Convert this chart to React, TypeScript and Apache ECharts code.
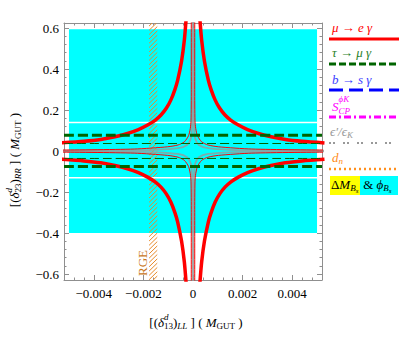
import React, { useEffect, useRef } from "react";
import * as echarts from "echarts";

// ---------- data ----------
const xRange = [-0.0052, 0.0052];
const yRange = [-0.629, 0.625];
const xMajorTicks = [-0.004, -0.002, 0, 0.002, 0.004];
const yMajorTicks = [-0.6, -0.4, -0.2, 0, 0.2, 0.4, 0.6];

// mu -> e gamma, thick contour: branch in the (+,+) quadrant (mirrored to the other quadrants)
const muEgThick = [
  [0.00028, 0.64], [0.00035, 0.54], [0.00046, 0.44], [0.00062, 0.345], [0.00073, 0.3],
  [0.00089, 0.25], [0.00107, 0.21], [0.00129, 0.176], [0.00153, 0.15], [0.00183, 0.127],
  [0.0022, 0.105], [0.00264, 0.086], [0.00315, 0.07], [0.00372, 0.057], [0.0044, 0.048],
  [0.0053, 0.04],
];
// mu -> e gamma, thin contour
const muEgThin = [
  [0.00007, 0.64], [0.00007, 0.3], [0.00008, 0.15], [0.00011, 0.11], [0.00018, 0.075],
  [0.00035, 0.045], [0.0006, 0.03], [0.00102, 0.021], [0.00237, 0.01], [0.0053, 0.005],
];
// epsilon'/epsilon_K contour (gray)
const epsK = [
  [0.00002, 0.64], [0.00002, 0.25], [0.00004, 0.12], [0.00009, 0.06], [0.00024, 0.03],
  [0.0006, 0.014], [0.0015, 0.006], [0.003, 0.003], [0.0053, 0.0018],
];
const tauMugThickY = [0.077, -0.075];
const tauMugThinY = [0.037, -0.036];
const bsAllowed = [[-0.005, 0.005, -0.4, 0.595]]; // x0, x1, y0, y1
const bsGapsY = [0.14, -0.13];
const rgeBand = [[-0.00177, -0.00144]];

const legendLabels = ["μ → e γ", "τ → μ γ", "b → s γ", "S", "ϵ′/ϵ", "d"];

// ---------- helpers ----------
const FONT = "'Liberation Serif', 'DejaVu Serif', serif";
let measureCtx: CanvasRenderingContext2D | null = null;
function measure(text: string, size: number, italic: boolean) {
  if (!measureCtx) measureCtx = document.createElement("canvas").getContext("2d");
  measureCtx!.font = `${italic ? "italic " : ""}${size}px ${FONT}`;
  return measureCtx!.measureText(text).width;
}
type Piece = { t: string; s?: number; i?: boolean; dy?: number; stack?: boolean; c?: string };
function mathText(pieces: Piece[], base: number, color: string, x0: number, y0: number, align = "left") {
  let x = 0, lastX = 0, lastW = 0;
  const items: any[] = [];
  for (const p of pieces) {
    const s = p.s ?? base;
    const w = measure(p.t, s, !!p.i);
    let px;
    if (p.stack) {
      px = lastX;
      const adv = Math.max(lastW, w);
      x = lastX + adv;
      lastW = adv;
    } else {
      px = x;
      lastX = x;
      lastW = w;
      x += w;
    }
    items.push({ px, p, s });
  }
  const off = align === "center" ? -x / 2 : 0;
  return items.map(({ px, p, s }) => ({
    type: "text",
    x: x0 + off + px,
    y: y0 + (p.dy ?? 0),
    silent: true,
    style: {
      text: p.t, fontSize: s, fontFamily: FONT, fontStyle: p.i ? "italic" : "normal",
      fill: p.c ?? color, align: "left", verticalAlign: "middle",
    },
  }));
}
const quad = (pts: number[][], sx: number, sy: number) => pts.map(([x, y]) => [x * sx, y * sy]);
const quads = (pts: number[][]) => [quad(pts, 1, 1), quad(pts, -1, 1), quad(pts, 1, -1), quad(pts, -1, -1)];

function lineSeries(data: number[][], color: string, width: number, type: any = "solid", z = 3, opacity = 1) {
  return {
    type: "line", xAxisIndex: 0, yAxisIndex: 0, data, showSymbol: false, symbol: "none",
    smooth: 0.25, silent: true, z, clip: true, animation: false,
    lineStyle: { color, width, type, opacity, cap: "butt" },
  };
}

const fmt = (v: number) => (v < 0 ? "\u2212" : "") + String(Math.abs(Number(v.toFixed(4))));

export default function App() {
  const ref = useRef<HTMLDivElement>(null);
  useEffect(() => {
    const chart = echarts.init(ref.current!, null, { renderer: "svg" });
    const axisColor = "#8f8f8f";
    const xMinor: number[] = [];
    for (let k = -12; k <= 12; k++) if (k % 5 !== 0) xMinor.push(Number((k * 0.0004).toFixed(5)));
    const yMinor: number[] = [];
    for (let k = -15; k <= 15; k++) if (k % 5 !== 0) yMinor.push(Number((k * 0.04).toFixed(4)));

    const mk = (kind: "x" | "y", position: string, major: boolean, labels: boolean) => ({
      type: "value",
      position,
      min: kind === "x" ? xRange[0] : yRange[0],
      max: kind === "x" ? xRange[1] : yRange[1],
      splitLine: { show: false },
      axisLine: { show: major, onZero: false, lineStyle: { color: axisColor, width: 1 } },
      axisTick: {
        show: true, inside: true, length: major ? 5 : 2.5,
        customValues: major ? (kind === "x" ? xMajorTicks : yMajorTicks) : kind === "x" ? xMinor : yMinor,
        lineStyle: { color: axisColor, width: 1 },
      },
      axisLabel: {
        show: labels,
        customValues: kind === "x" ? xMajorTicks : yMajorTicks,
        formatter: fmt, fontFamily: FONT, fontSize: 13, color: "#000",
        margin: kind === "x" ? 7 : 5,
      },
    });

    const series: any[] = [];
    // cyan allowed region (Delta M_Bs & phi_Bs)
    series.push({
      type: "custom", xAxisIndex: 0, yAxisIndex: 0, silent: true, z: 1,
      data: bsAllowed, encode: { x: [0, 1], y: [2, 3] },
      renderItem: (_p: any, api: any) => {
        const a = api.coord([api.value(0), api.value(3)]);
        const b = api.coord([api.value(1), api.value(2)]);
        return { type: "rect", shape: { x: a[0], y: a[1], width: b[0] - a[0], height: b[1] - a[1] }, style: { fill: "#00ffff" } };
      },
    });
    bsGapsY.forEach((y) =>
      series.push(lineSeries([[bsAllowed[0][0], y], [bsAllowed[0][1], y]], "#ffffff", 1.5, "solid", 2))
    );
    // RGE hatched band
    series.push({
      type: "custom", xAxisIndex: 0, yAxisIndex: 0, silent: true, z: 2, clip: true,
      data: rgeBand, encode: { x: [0, 1] },
      renderItem: (_p: any, api: any) => {
        const x0 = api.coord([api.value(0), 0])[0];
        const x1 = api.coord([api.value(1), 0])[0];
        const top = api.coord([0, yRange[1]])[1];
        const bottom = api.coord([0, yRange[0]])[1];
        const children: any[] = [];
        for (let y = bottom + 4; y > top; y -= 4.3) {
          const y2 = Math.max(y - 8, top);
          const xe = x0 + (x1 - x0) * ((y - y2) / 8);
          children.push({ type: "line", shape: { x1: x0, y1: y, x2: xe, y2 }, style: { stroke: "#e8892a", lineWidth: 1 } });
        }
        return { type: "group", children };
      },
    });
    // epsilon'/epsilon_K gray
    quads(epsK).forEach((d) => series.push(lineSeries(d, "#999999", 1.8, "solid", 3, 0.8)));
    // mu -> e gamma thin
    quads(muEgThin).forEach((d) => series.push(lineSeries(d, "#ff0000", 1, "solid", 4)));
    // mu -> e gamma thick
    quads(muEgThick).forEach((d) => series.push(lineSeries(d, "#ff0000", 3.5, "solid", 5)));
    // tau -> mu gamma
    tauMugThinY.forEach((y) => series.push(lineSeries([[xRange[0], y], [xRange[1], y]], "#006400", 1, [9, 4], 6)));
    tauMugThickY.forEach((y) => series.push(lineSeries([[xRange[0], y], [xRange[1], y]], "#006400", 3, [10, 4], 6)));

    // ---------- graphic: titles, legend ----------
    const sub = 9;
    const xTitle: Piece[] = [
      { t: "[(" }, { t: "δ", i: true }, { t: "d", i: true, s: sub, dy: -5 }, { t: "13", s: sub, dy: 4, stack: true },
      { t: ")" }, { t: "LL", i: true, s: sub, dy: 4 }, { t: " ] ( " }, { t: "M", i: true }, { t: "GUT", s: sub, dy: 4 }, { t: " )" },
    ];
    const yTitle: Piece[] = [
      { t: "[(" }, { t: "δ", i: true }, { t: "d", i: true, s: sub, dy: -5 }, { t: "23", s: sub, dy: 4, stack: true },
      { t: ")" }, { t: "RR", i: true, s: sub, dy: 4 }, { t: " ] ( " }, { t: "M", i: true }, { t: "GUT", s: sub, dy: 4 }, { t: " )" },
    ];
    const L0 = 329, L1 = 399, TX = 332;
    const legLine = (y: number, color: string, width: number, dash: any) => ({
      type: "line", silent: true, shape: { x1: L0, y1: y, x2: L1, y2: y },
      style: { stroke: color, lineWidth: width, lineDash: dash, lineCap: "butt" },
    });
    const graphics: any[] = [
      ...mathText(xTitle, 13, "#000", 196, 322, "center"),
      { type: "group", x: 14, y: 160, rotation: Math.PI / 2, children: mathText(yTitle, 13, "#000", 0, 0, "center") },
      {
        type: "text", x: 142, y: 263, rotation: Math.PI / 2, silent: true,
        style: { text: "RGE", fontSize: 13, fontFamily: FONT, fill: "#c8781e", align: "center", verticalAlign: "middle" },
      },
      ...mathText([{ t: legendLabels[0], i: true }], 13, "#ff0000", TX, 27),
      legLine(39, "#ff0000", 3, null),
      ...mathText([{ t: legendLabels[1], i: true }], 13, "#2a7f2a", TX, 52),
      legLine(64, "#006400", 3, [7, 3]),
      ...mathText([{ t: legendLabels[2], i: true }], 13, "#3c3cff", TX, 79),
      legLine(90, "#0000ff", 3, [14, 6]),
      ...mathText([{ t: legendLabels[3], i: true }, { t: "ϕK", i: true, s: sub, dy: -7 }, { t: "CP", i: true, s: sub, dy: 5, stack: true }], 13, "#ff00ff", TX, 106),
      legLine(117, "#ff00ff", 3, [7, 3, 2, 3]),
      ...mathText([{ t: legendLabels[4], i: true }, { t: "K", i: true, s: sub, dy: 4 }], 13, "#999999", TX - 2, 131),
      legLine(143, "#999999", 2, [2, 2, 2, 8]),
      ...mathText([{ t: legendLabels[5], i: true }, { t: "n", i: true, s: sub, dy: 4 }], 13, "#ff8c1a", TX, 157),
      legLine(169, "#ff9020", 2.5, [2, 3]),
      { type: "rect", silent: true, shape: { x: 330, y: 176, width: 30, height: 19 }, style: { fill: "#ffff00" } },
      { type: "rect", silent: true, shape: { x: 360, y: 176, width: 38, height: 19 }, style: { fill: "#00ffff" } },
      ...mathText([{ t: "Δ" }, { t: "M", i: true }, { t: "B", i: true, s: sub, dy: 4 }, { t: "s", i: true, s: 7, dy: 7 }], 13, "#000", 331, 184),
      ...mathText([{ t: " & " }, { t: "ϕ", i: true }, { t: "B", i: true, s: sub, dy: 4 }, { t: "s", i: true, s: 7, dy: 7 }], 13, "#000", 360, 184),
    ];

    chart.setOption({
      animation: false,
      backgroundColor: "#ffffff",
      grid: { left: 64, right: 77, top: 23, bottom: 58, containLabel: false },
      xAxis: [mk("x", "bottom", true, true), mk("x", "bottom", false, false), mk("x", "top", true, false), mk("x", "top", false, false)],
      yAxis: [mk("y", "left", true, true), mk("y", "left", false, false), mk("y", "right", true, false), mk("y", "right", false, false)],
      series,
      graphic: graphics,
    });
    return () => chart.dispose();
  }, []);
  return <div ref={ref} style={{ position: "fixed", left: 0, top: 0, width: 399, height: 338 }} />;
}
